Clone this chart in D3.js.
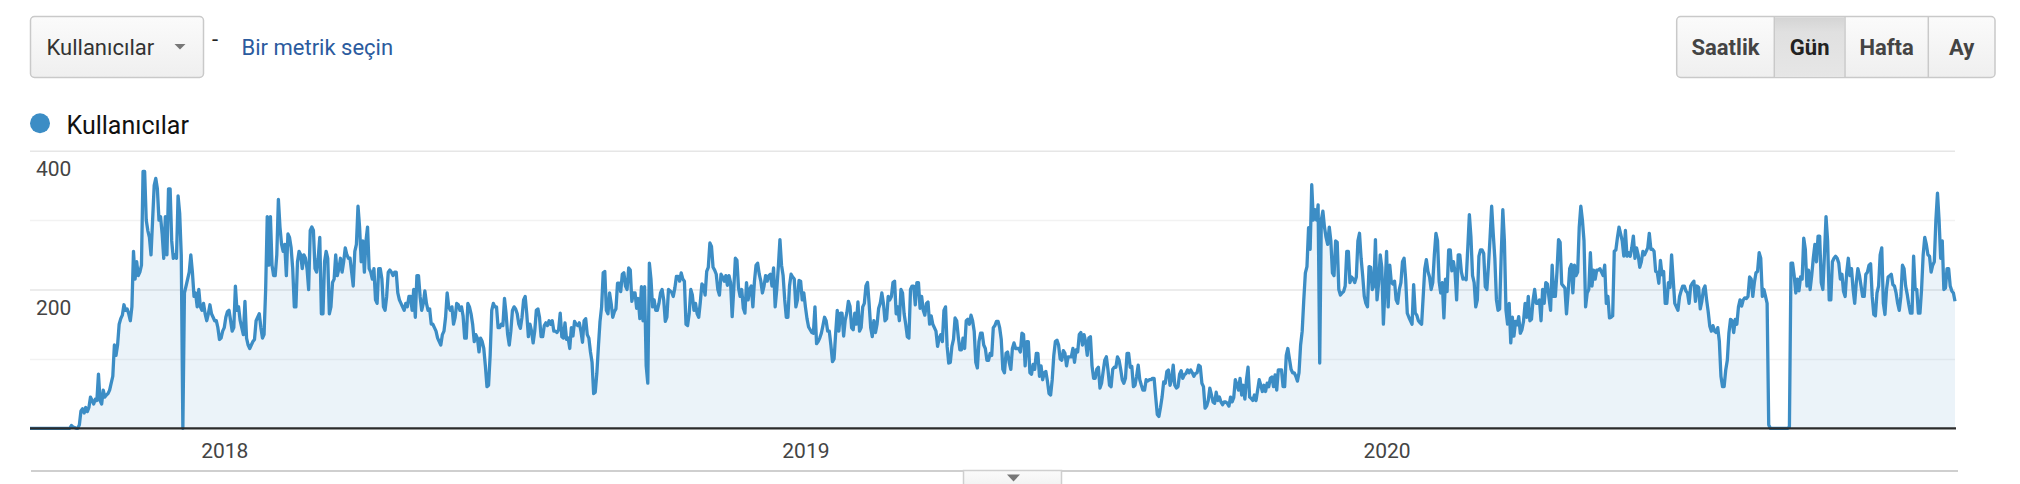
<!DOCTYPE html>
<html>
<head>
<meta charset="utf-8">
<script src="https://cdn.jsdelivr.net/npm/d3@7"></script>
<style>
body { margin: 0; background: #fff; }
svg text { font-family: Roboto, "Noto Sans", sans-serif; }
</style>
</head>
<body>
<svg id="chart" width="2020" height="484"></svg>
<script>
// daily users, one value per day starting 2017-09-01
var startDate = new Date(2017, 8, 1);

var users2017 = [
  0,0,0,0,0,0,0,0,0,0,
  0,0,0,0,0,0,0,0,0,0,
  0,0,0,0,0,0,4,2,1,0,
  0,5,25,28,22,30,24,30,45,40,
  35,42,40,78,40,35,55,45,48,50,
  55,65,75,120,105,120,150,158,163,178,
  170,172,165,155,175,255,215,240,220,225,
  235,370,370,300,285,275,250,300,350,360,
  345,300,305,280,245,305,250,345,345,270,
  245,250,245,335,310,250,0,195,205,215,
  225,250,225,190,195,175,200,175,170,180,
  165,155,165,178,165,160,155,155,145,128,
  130,140
];

var users2018 = [
  145,160,168,170,155,140,145,205,170,175,
  155,145,135,183,130,120,115,120,125,128,
  155,160,165,145,130,135,200,305,235,305,
  235,220,220,250,330,290,265,255,265,220,
  280,275,260,230,175,175,240,255,250,230,
  250,245,230,200,285,290,285,230,225,245,
  275,165,165,240,255,245,165,175,210,215,
  250,220,230,245,225,240,260,250,245,245,
  225,205,255,265,320,290,240,270,225,270,
  290,230,225,215,230,185,180,230,230,215,
  175,170,190,225,228,225,220,225,225,195,
  185,180,175,170,180,175,190,190,170,200,
  160,220,220,190,170,180,198,180,170,172,
  150,150,145,140,130,125,120,135,140,160,
  195,175,170,175,150,160,180,178,170,175,
  162,130,130,180,175,165,150,125,135,130,
  110,130,125,115,90,60,62,105,170,180,
  175,175,145,145,150,148,187,165,135,120,
  140,170,175,172,165,150,144,160,185,190,
  165,132,150,140,123,140,170,172,160,132,
  132,148,152,148,155,150,155,140,140,138,
  142,166,132,130,152,128,130,115,145,133,
  154,150,148,152,140,124,155,158,135,130,
  110,95,50,52,79,118,154,175,224,226,
  170,165,195,180,160,168,172,209,209,197,
  222,224,205,200,231,228,183,195,195,173,
  187,158,204,155,204,90,65,238,215,175,
  185,170,170,180,195,200,185,154,160,200,
  198,196,190,202,219,219,212,224,215,212,
  150,148,165,200,192,170,180,165,160,182,
  208,205,192,226,232,267,262,232,228,222,
  200,192,222,218,212,220,206,220,210,161,
  200,245,242,202,190,200,173,166,210,185,
  200,205,175,212,235,238,222,212,195,205,
  220,212,220,222,205,231,175,200,233,272,
  235,220,185,160,160,205,222,218,215,175,
  185,213,212,185,195
];

var users2019 = [
  175,158,146,142,138,137,175,122,125,130,
  137,148,160,155,140,140,120,96,100,137,
  170,140,166,166,133,156,166,183,176,145,
  142,166,150,182,140,145,175,180,205,210,
  180,145,132,155,138,150,173,180,195,180,
  155,158,190,185,190,210,212,165,175,155,
  200,195,165,150,132,130,200,205,205,178,
  210,210,173,190,170,163,180,182,150,162,
  150,145,140,118,130,135,125,170,175,118,
  94,95,118,128,159,155,132,113,113,130,
  115,155,157,150,163,155,140,95,87,125,
  137,137,120,115,98,98,108,105,145,148,
  154,154,145,128,85,80,108,110,95,85,
  115,123,115,115,115,110,137,135,90,125,
  125,80,78,92,85,108,108,75,90,70,
  80,82,68,50,48,70,105,125,127,120,
  100,98,112,108,90,103,103,103,115,95,
  113,110,135,138,120,135,125,105,130,132,
  90,72,72,85,88,58,65,82,98,103,
  85,62,60,85,88,88,103,98,85,70,
  65,72,108,108,88,
  89,60,62,75,91,70,62,55,55,70,
  68,70,70,72,72,45,20,17,30,45,
  67,65,82,84,62,70,91,62,58,60,
  78,83,72,77,79,84,80,84,80,75,
  79,80,91,89,65,60,29,32,40,58,
  48,38,36,52,40,45,38,34,38,38,
  36,32,45,38,44,70,63,55,72,48,
  62,42,70,88,45,43,40,48,40,55,
  70,62,53,62,53,65,60,72,74,60,
  77,55,84,84,84,60,60,105,115,100,
  85,80,80,75,68,80,120,140,185,224,
  233,289,258,351,300,315,300,322,94,300,
  313,290,275,265,290,270,224,220,270,268,
  200,192,195,197,205,255,255,210,218,215,
  210,218,270,281,245,220,190,180,175,233,
  232,200,205,272,185,209,250,232,150,200
];

var users2020 = [
  255,175,235,210,208,212,185,180,200,210,
  240,245,215,166,160,155,150,207,166,163,
  155,152,150,190,230,243,226,218,200,210,
  250,281,270,212,195,210,159,215,197,257,
  257,227,240,225,185,250,250,225,215,216,
  214,260,308,275,220,210,175,185,248,257,
  257,252,204,200,235,275,320,280,245,185,
  170,172,250,315,270,170,150,180,123,160,
  133,154,149,161,137,142,154,180,160,190,
  155,157,185,200,180,180,185,155,200,180,
  210,208,188,170,235,190,190,225,272,268,
  208,205,202,165,195,230,236,195,235,220,
  225,290,320,300,270,175,195,200,253,205,
  228,215,228,228,230,225,220,235,180,190,
  159,160,162,255,257,275,290,280,270,248,
  285,248,253,248,260,277,245,260,250,232,
  240,255,250,255,260,281,258,258,255,226,
  225,209,242,221,226,180,180,210,203,250,
  215,180,175,170,190,198,205,205,198,195,
  180,205,209,212,183,205,203,172,183,200,
  205,185,168,147,140,148,140,138,145,125,
  75,60,60,84,98,137,157,155,138,157,
  150,175,185,176,185,188,187,190,218,215,
  190,210,224,226,253,245,190,200,190,180,
  5,0,0,0,0,0,0,0,0,0,
  0,0,0,2,238,238,220,195,215,198,
  218,215,274,258,205,228,200,220,245,265,
  240,277,277,210,200,250,305,270,185,185,
  240,245,248,245,238,215,222,197,190,225,
  245,220,230,200,180,210,230,220,205,190,
  190,222,225,235,237,190,164,162,195,205,
  250,260,180,164,200,218,220,222,207,205,
  195,180,170,190,235,230,205,193,178,166,
  166,248,200,200,166,166,200,250,275,265,
  250,248,225,235,240,300,339,300,245,270,
  200,202,230,230,205,198,195,183
];

var gridTicks = [100, 200, 300, 400];
var labelTicks = [200, 400];
var periodButtons = ['Saatlik', 'Gün', 'Hafta', 'Ay'];
var activeButton = 'Gün';
var metricName = 'Kullanıcılar';
var metricLink = 'Bir metrik seçin';

var lineColor = '#3c8dc5';

var users = users2017.concat(users2018, users2019, users2020);
var data = users.map(function(v, i) {
  return { date: d3.timeDay.offset(startDate, i), value: v };
});

var svg = d3.select('#chart');

// plot box (window.top is reserved, so don't call it "top")
var plotLeft = 30, plotRight = 1955, plotBottom = 428.3, plotTop = 150.7;

var x = d3.scaleTime()
  .domain(d3.extent(data, function(d) { return d.date; }))
  .range([plotLeft, plotRight]);

var y = d3.scaleLinear()
  .domain([0, 400])
  .range([plotBottom, plotTop]);

var defs = svg.append('defs');
var g1 = defs.append('linearGradient').attr('id', 'btn').attr('x1', 0).attr('x2', 0).attr('y1', 0).attr('y2', 1);
g1.append('stop').attr('offset', '0%').attr('stop-color', '#fbfbfb');
g1.append('stop').attr('offset', '100%').attr('stop-color', '#efefef');
var g2 = defs.append('linearGradient').attr('id', 'btnOn').attr('x1', 0).attr('x2', 0).attr('y1', 0).attr('y2', 1);
g2.append('stop').attr('offset', '0%').attr('stop-color', '#d4d4d4');
g2.append('stop').attr('offset', '25%').attr('stop-color', '#e0e0e0');
g2.append('stop').attr('offset', '100%').attr('stop-color', '#e6e6e6');

// --- top controls ---
svg.append('rect')
  .attr('x', 30.5).attr('y', 16.5).attr('width', 173).attr('height', 61).attr('rx', 4)
  .attr('fill', 'url(#btn)').attr('stroke', '#c9c9c9').attr('stroke-width', 1.5);
svg.append('text')
  .attr('x', 46.5).attr('y', 55)
  .attr('font-size', 22).attr('fill', '#333')
  .text(metricName);
svg.append('path')
  .attr('d', 'M174.5,44 L185.5,44 L180,49.5 Z')
  .attr('fill', '#777');
svg.append('text')
  .attr('x', 212).attr('y', 47)
  .attr('font-size', 22).attr('fill', '#222')
  .text('-');
svg.append('text')
  .attr('x', 241.5).attr('y', 55)
  .attr('font-size', 22).attr('fill', '#2b5b9e')
  .text(metricLink);

// period buttons
var btnEdges = [1676.7, 1774.3, 1845, 1928.3, 1995];
svg.append('rect')
  .attr('x', btnEdges[0]).attr('y', 16.5)
  .attr('width', btnEdges[4] - btnEdges[0]).attr('height', 61).attr('rx', 4)
  .attr('fill', 'url(#btn)').attr('stroke', '#c9c9c9').attr('stroke-width', 1.5);

var btn = svg.selectAll('g.btn')
  .data(periodButtons)
  .enter()
  .append('g')
  .attr('class', 'btn');

btn.filter(function(d) { return d === activeButton; })
  .append('rect')
  .attr('x', function(d) { return btnEdges[periodButtons.indexOf(d)] + 0.75; })
  .attr('y', 17.25)
  .attr('width', function(d) { var k = periodButtons.indexOf(d); return btnEdges[k + 1] - btnEdges[k] - 1.5; })
  .attr('height', 59.5)
  .attr('fill', 'url(#btnOn)');

btn.filter(function(d, i) { return i > 0; })
  .append('line')
  .attr('x1', function(d) { return btnEdges[periodButtons.indexOf(d)]; })
  .attr('x2', function(d) { return btnEdges[periodButtons.indexOf(d)]; })
  .attr('y1', 17).attr('y2', 77)
  .attr('stroke', '#c9c9c9').attr('stroke-width', 1.5);

btn.append('text')
  .attr('x', function(d, i) { return (btnEdges[i] + btnEdges[i + 1]) / 2; })
  .attr('y', 55)
  .attr('text-anchor', 'middle')
  .attr('font-size', 22)
  .attr('font-weight', 'bold')
  .attr('fill', function(d) { return d === activeButton ? '#222' : '#444'; })
  .text(function(d) { return d; });

// --- legend ---
svg.append('circle')
  .attr('cx', 40).attr('cy', 123.3).attr('r', 10)
  .attr('fill', lineColor);
svg.append('text')
  .attr('x', 66.5).attr('y', 133.5)
  .attr('font-size', 25).attr('fill', '#111')
  .text(metricName);

// --- grid ---
var grid = svg.append('g')
  .attr('transform', 'translate(' + plotLeft + ',0)')
  .call(d3.axisRight(y).tickValues(gridTicks).tickSize(plotRight - plotLeft).tickFormat(''));
grid.select('.domain').remove();
grid.selectAll('line')
  .attr('stroke', function(d) { return labelTicks.indexOf(d) >= 0 ? '#e6e6e6' : '#f2f2f2'; })
  .attr('stroke-width', 1.5);

// --- area + line ---
svg.append('path')
  .datum(data)
  .attr('fill', lineColor)
  .attr('fill-opacity', 0.1)
  .attr('d', d3.area()
    .x(function(d) { return x(d.date); })
    .y0(y(0))
    .y1(function(d) { return y(d.value); }));

svg.append('path')
  .datum(data)
  .attr('fill', 'none')
  .attr('stroke', lineColor)
  .attr('stroke-width', 3.3)
  .attr('stroke-linejoin', 'round')
  .attr('d', d3.line()
    .x(function(d) { return x(d.date); })
    .y(function(d) { return y(d.value); }));

// baseline
svg.append('line')
  .attr('x1', plotLeft).attr('x2', plotRight + 1)
  .attr('y1', y(0)).attr('y2', y(0))
  .attr('stroke', '#2b2b2b').attr('stroke-width', 2.3);

// --- y labels ---
var yAxis = svg.append('g')
  .attr('transform', 'translate(36,0)')
  .call(d3.axisRight(y).tickValues(labelTicks).tickSize(0).tickPadding(0));
yAxis.select('.domain').remove();
yAxis.selectAll('text')
  .attr('x', 0).attr('dy', 25)
  .attr('text-anchor', 'start')
  .attr('font-family', 'Roboto, sans-serif')
  .attr('font-size', 21).attr('fill', '#444');

// --- x labels ---
var xAxis = svg.append('g')
  .attr('transform', 'translate(0,' + y(0) + ')')
  .call(d3.axisBottom(x).ticks(d3.timeYear.every(1)).tickFormat(d3.timeFormat('%Y')).tickSize(0));
xAxis.select('.domain').remove();
xAxis.selectAll('text')
  .attr('y', 30).attr('dy', 0)
  .attr('font-family', 'Roboto, sans-serif')
  .attr('font-size', 21).attr('fill', '#444');

// --- bottom bar with handle ---
svg.append('line')
  .attr('x1', 31).attr('x2', 1958)
  .attr('y1', 471).attr('y2', 471)
  .attr('stroke', '#cfcfcf').attr('stroke-width', 2);
svg.append('rect')
  .attr('x', 963.5).attr('y', 470.5).attr('width', 98).attr('height', 20)
  .attr('fill', 'url(#btn)').attr('stroke', '#cfcfcf').attr('stroke-width', 1.5);
svg.append('path')
  .attr('d', 'M1007,474.5 L1020,474.5 L1013.5,481.5 Z')
  .attr('fill', '#777');
</script>
</body>
</html>
